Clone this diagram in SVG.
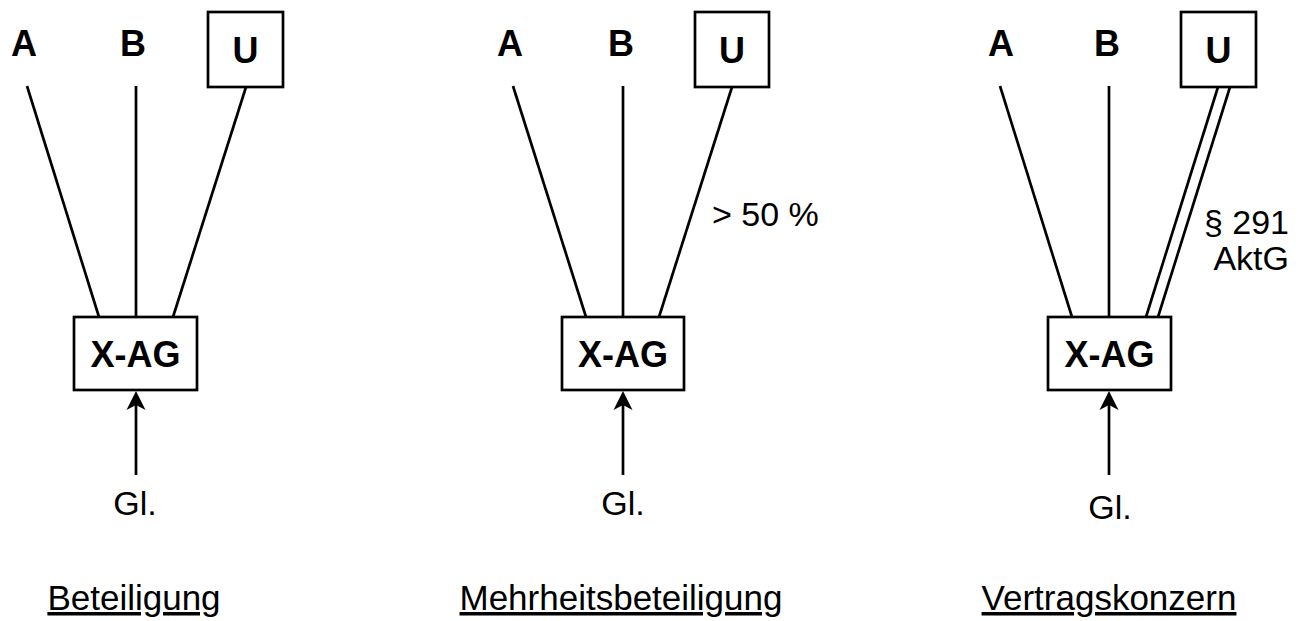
<svg xmlns="http://www.w3.org/2000/svg" width="1304" height="621" viewBox="0 0 1304 621">
<style>
.b{font-family:"Liberation Sans",Arial,sans-serif;font-weight:bold;fill:#000;font-size:36px;text-anchor:middle}
.r{font-family:"Liberation Sans",Arial,sans-serif;fill:#000;font-size:34px}
.box{fill:#fff;stroke:#000;stroke-width:2.7}
.ln{stroke:#000;stroke-width:2.7;fill:none}
.ttl{font-family:"Liberation Sans",Arial,sans-serif;font-size:35px;text-decoration:underline;text-anchor:middle;fill:#000}
</style>
<defs>
<path id="ah" d="M0,0 L-9.5,19 L0,14 L9.5,19 Z" fill="#000"/>
</defs>
<g id="connectors">
<line class="ln" x1="27" y1="86" x2="99" y2="317"/>
<line class="ln" x1="136" y1="86" x2="136" y2="317"/>
<line class="ln" x1="246" y1="87" x2="173" y2="317"/>
<line class="ln" x1="136" y1="475" x2="136" y2="396"/>
<use href="#ah" x="136" y="391"/>
<line class="ln" x1="513" y1="86" x2="586" y2="317"/>
<line class="ln" x1="623" y1="86" x2="623" y2="317"/>
<line class="ln" x1="732" y1="87" x2="659" y2="317"/>
<line class="ln" x1="623" y1="475" x2="623" y2="396"/>
<use href="#ah" x="623" y="391"/>
<line class="ln" x1="1000" y1="86" x2="1072" y2="317"/>
<line class="ln" x1="1109" y1="86" x2="1109" y2="317"/>
<line class="ln" x1="1218" y1="87" x2="1146" y2="317"/>
<line class="ln" x1="1230" y1="87" x2="1158" y2="317"/>
<line class="ln" x1="1109" y1="475" x2="1109" y2="396"/>
<use href="#ah" x="1109" y="391"/>
</g>
<g id="p1-A"><text class="b" x="24" y="56">A</text></g>
<g id="p1-B"><text class="b" x="133" y="56">B</text></g>
<g id="p1-U"><rect class="box" x="208" y="12" width="75" height="75"/><text class="b" x="245.5" y="63">U</text></g>
<g id="p1-XAG"><rect class="box" x="74" y="317" width="123" height="73"/><text class="b" x="135.5" y="367">X-AG</text></g>
<g id="p1-Gl"><text class="r" x="135" y="515" text-anchor="middle">Gl.</text></g>
<g id="p1-title"><text class="ttl" x="134" y="610">Beteiligung</text></g>

<g id="p2-A"><text class="b" x="510" y="56">A</text></g>
<g id="p2-B"><text class="b" x="621" y="56">B</text></g>
<g id="p2-U"><rect class="box" x="695" y="12" width="74" height="75"/><text class="b" x="732" y="63">U</text></g>
<g id="p2-XAG"><rect class="box" x="562" y="317" width="122" height="73"/><text class="b" x="623" y="367">X-AG</text></g>
<g id="p2-Gl"><text class="r" x="623" y="515" text-anchor="middle">Gl.</text></g>
<g id="p2-pct"><text class="r" x="712" y="226">&gt; 50 %</text></g>
<g id="p2-title"><text class="ttl" x="621" y="610">Mehrheitsbeteiligung</text></g>

<g id="p3-A"><text class="b" x="1001" y="56">A</text></g>
<g id="p3-B"><text class="b" x="1107" y="56">B</text></g>
<g id="p3-U"><rect class="box" x="1181" y="12" width="75" height="75"/><text class="b" x="1218.5" y="63">U</text></g>
<g id="p3-XAG"><rect class="box" x="1048" y="317" width="123" height="73"/><text class="b" x="1109.5" y="367">X-AG</text></g>
<g id="p3-Gl"><text class="r" x="1110" y="519" text-anchor="middle">Gl.</text></g>
<g id="p3-law"><text class="r" x="1289" y="234" font-size="30" text-anchor="end">§ 291</text><text class="r" x="1289" y="270" font-size="30" text-anchor="end">AktG</text></g>
<g id="p3-title"><text class="ttl" x="1109" y="610">Vertragskonzern</text></g>
</svg>
